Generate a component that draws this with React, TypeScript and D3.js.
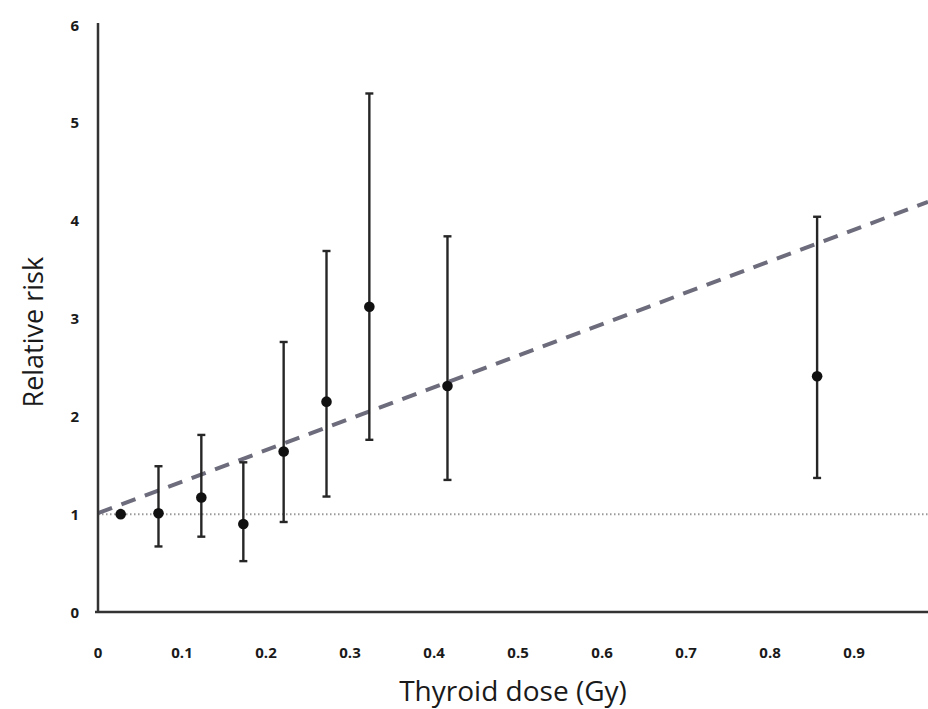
import React from "react";
import * as d3 from "d3";

const doses = [0.027, 0.072, 0.123, 0.173, 0.221, 0.272, 0.323, 0.416, 0.856];
const relRisk = [1.0, 1.01, 1.17, 0.9, 1.64, 2.15, 3.12, 2.31, 2.41];
const ciLower = [NaN, 0.67, 0.77, 0.52, 0.92, 1.18, 1.76, 1.35, 1.37];
const ciUpper = [NaN, 1.49, 1.81, 1.53, 2.76, 3.69, 5.3, 3.84, 4.04];
const xTicks = [0, 0.1, 0.2, 0.3, 0.4, 0.5, 0.6, 0.7, 0.8, 0.9];
const yTicks = [0, 1, 2, 3, 4, 5, 6];
const fitIntercept = 1.01;
const fitSlope = 3.22;
const referenceRR = 1;

const W = 928;
const H = 709;

export default function App() {
  const x = d3.scaleLinear().domain([0, 0.988]).range([98, 928]);
  const y = d3.scaleLinear().domain([0, 6]).range([612, 25]);
  const fitLine = d3
    .line<number>()
    .x((d) => x(d))
    .y((d) => y(fitIntercept + fitSlope * d));
  const fitDomain = x.domain();
  const tickFont = "'Open Sans', 'DejaVu Sans', sans-serif";

  return (
    <svg
      width={W}
      height={H}
      style={{ position: "absolute", left: 0, top: 0, background: "#fff" }}
    >
      {/* reference line RR = 1 */}
      <line
        x1={x(0)}
        x2={928}
        y1={y(referenceRR)}
        y2={y(referenceRR)}
        stroke="#9a9a9a"
        strokeWidth={2}
        strokeDasharray="1.5 2.5"
      />
      {/* fitted linear model */}
      <path
        d={fitLine(fitDomain) || ""}
        fill="none"
        stroke="#6d6c7c"
        strokeWidth={4}
        strokeDasharray="15 10"
      />
      {/* error bars */}
      {doses.map((d, i) =>
        isNaN(ciLower[i]) ? null : (
          <g key={"e" + i} stroke="#262626" strokeWidth={2.4}>
            <line x1={x(d)} x2={x(d)} y1={y(ciLower[i])} y2={y(ciUpper[i])} />
            <line x1={x(d) - 4} x2={x(d) + 4} y1={y(ciLower[i])} y2={y(ciLower[i])} />
            <line x1={x(d) - 4} x2={x(d) + 4} y1={y(ciUpper[i])} y2={y(ciUpper[i])} />
          </g>
        )
      )}
      {/* points */}
      {doses.map((d, i) => (
        <circle key={"p" + i} cx={x(d)} cy={y(relRisk[i])} r={5.3} fill="#111" />
      ))}
      {/* axes */}
      <line x1={x(0)} x2={x(0)} y1={23} y2={y(0)} stroke="#333" strokeWidth={2.5} />
      <line x1={95} x2={928} y1={y(0)} y2={y(0)} stroke="#333" strokeWidth={2.5} />
      {/* tick labels */}
      {xTicks.map((t) => (
        <text
          key={"xt" + t}
          x={x(t)}
          y={658}
          textAnchor="middle"
          fontFamily={tickFont}
          fontWeight="bold"
          fontSize={15}
          fill="#1a1a1a"
        >
          {t === 0 ? "0" : d3.format(".1f")(t)}
        </text>
      ))}
      {yTicks.map((t) => (
        <text
          key={"yt" + t}
          x={79}
          y={y(t) + 5.5}
          textAnchor="end"
          fontFamily={tickFont}
          fontWeight="bold"
          fontSize={15}
          fill="#1a1a1a"
        >
          {t}
        </text>
      ))}
      {/* axis titles */}
      <text
        x={513}
        y={701}
        textAnchor="middle"
        fontFamily={tickFont}
        fontSize={28}
        fill="#1a1a1a"
      >
        Thyroid dose (Gy)
      </text>
      <text
        transform={`translate(43, ${y(2.86)}) rotate(-90)`}
        textAnchor="middle"
        fontFamily={tickFont}
        fontSize={27}
        fill="#1a1a1a"
      >
        Relative risk
      </text>
    </svg>
  );
}
